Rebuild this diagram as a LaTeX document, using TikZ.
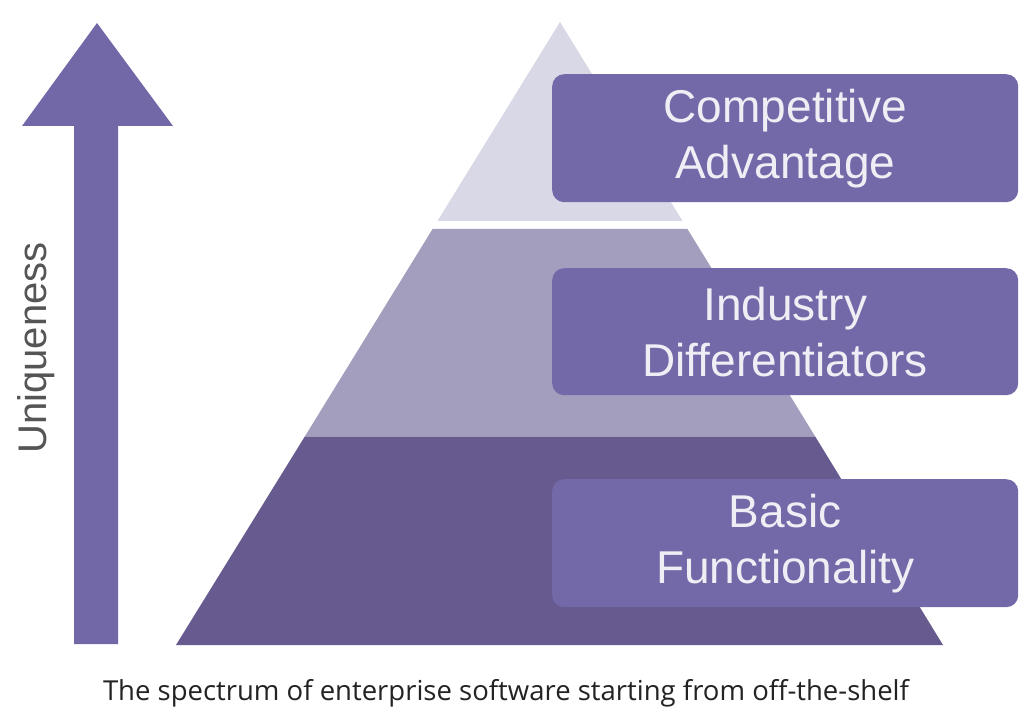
\documentclass[tikz,border=0pt]{standalone}
\usepackage{fontspec}
\setmainfont{Open Sans}
\newfontfamily\boxfont{Liberation Sans}
\definecolor{arrowc}{RGB}{114,104,168}
\definecolor{boxc}{RGB}{115,105,168}
\definecolor{tierA}{RGB}{217,216,230}
\definecolor{tierB}{RGB}{163,157,190}
\definecolor{tierC}{RGB}{103,90,142}
\definecolor{boxtext}{RGB}{240,238,245}
\definecolor{labelc}{RGB}{85,85,85}
\definecolor{capc}{RGB}{35,35,35}
\begin{document}
\begin{tikzpicture}[x=1pt,y=-1pt,
  labelbox/.style={fill=boxc, rounded corners=12pt, minimum width=466pt,
    minimum height=128pt, anchor=north west, inner sep=0pt, text=boxtext,
    align=center, font=\boxfont\fontsize{46}{56}\selectfont},
  sidelabel/.style={rotate=90, text=labelc, font=\boxfont\fontsize{40}{44}\selectfont},
  caption/.style={text=capc, anchor=base, font=\fontsize{27.5}{30}\selectfont}
]
\useasboundingbox (0,0) rectangle (1019,708);
\fill[white] (0,0) rectangle (1019,708);
% uniqueness arrow
\fill[arrowc] (74,644) -- (74,126) -- (22,126) -- (97,23) -- (173,126)
  -- (118,126) -- (118,644) -- cycle;
\node[sidelabel] (uniq) at (36,348) {Uniqueness};
% pyramid tiers
\fill[tierA] (560,22) -- (682.5,221) -- (437.5,221) -- cycle;
\fill[tierB] (432.6,229) -- (687.4,229) -- (815.2,436.5) -- (304.8,436.5) -- cycle;
\fill[tierC] (304.8,436.5) -- (815.2,436.5) -- (943,645) -- (176,645) -- cycle;
% label boxes
\node[labelbox] (comp) at (552,74) {Competitive\\Advantage};
\node[labelbox, minimum height=127pt] (ind) at (552,268) {Industry\\Differentiators};
\node[labelbox] (basic) at (552,479) {Basic\\Functionality};
% caption
\node[caption] (cap) at (506,700) {The spectrum of enterprise software starting from off-the-shelf};
\end{tikzpicture}
\end{document}
